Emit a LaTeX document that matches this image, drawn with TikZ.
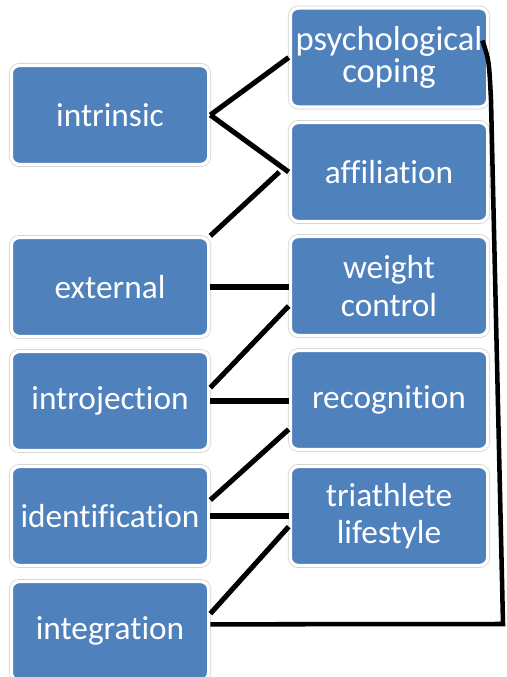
\documentclass[tikz,border=0pt]{standalone}
\usepackage{fontspec}
\setmainfont{Carlito}[Ligatures=NoCommon]

\definecolor{boxblue}{HTML}{4F81BD}

\begin{document}
\begin{tikzpicture}[x=0.75pt, y=-0.75pt,
    motive/.style={rectangle, rounded corners=6pt, fill=boxblue,
        draw=white, line width=2.5pt,
        preaction={draw=black!18, line width=3.6pt},
        minimum width=148pt, minimum height=74.25pt, inner sep=0pt,
        text=white, align=center, font=\fontsize{25}{28}\selectfont},
    link/.style={line width=3.8pt}]
    %% canvas
    \useasboundingbox (0,0) rectangle (506,677);
    % regulation types on the left
    \node[motive] (intr)   at (110,115) {intrinsic};
    \node[motive] (ext)    at (110,287) {external};
    \node[motive] (intro)  at (110,401) {introjection};
    \node[motive] (ident)  at (110,516) {identification};
    \node[motive] (integr) at (110,631) {integration};
    % motives on the right
    \node[motive, font=\fontsize{26}{24}\selectfont] (psy) at (389,57.5) {psychological\\coping};
    \node[motive] (aff) at (389,172) {affiliation};
    \node[motive] (wt)  at (389,286) {weight\\control};
    \node[motive] (rec) at (389,400) {recognition};
    \node[motive] (tri) at (389,516) {triathlete\\lifestyle};
    %% links
    \draw[link] (intr.east) -- (psy.west);
    \draw[link] (intr.east) -- (aff.west);
    \draw[link] (ext.north east) -- ([xshift=-7pt]aff.west);
    \draw[link] (ext.east) -- (ext.east -| wt.west);
    \draw[link] ([yshift=10pt]intro.east) -- ([yshift=-15pt]wt.west);
    \draw[link] (intro.east) -- (intro.east -| rec.west);
    \draw[link] ([yshift=12pt]ident.east) -- ([yshift=-22pt]rec.west);
    \draw[link] (ident.east) -- (ident.east -| tri.west);
    \draw[link] ([yshift=13pt]integr.east) -- ([yshift=-8pt]tri.west);
    % long way back up to the first motive
    \coordinate (corner) at (503,624);
    \draw[link, line width=3.4pt] ([yshift=5pt]integr.east) -- (corner) -- (491,100)
        .. controls (489,60) .. ([shift={(-7,-17)}]psy.east);
\end{tikzpicture}
\end{document}
